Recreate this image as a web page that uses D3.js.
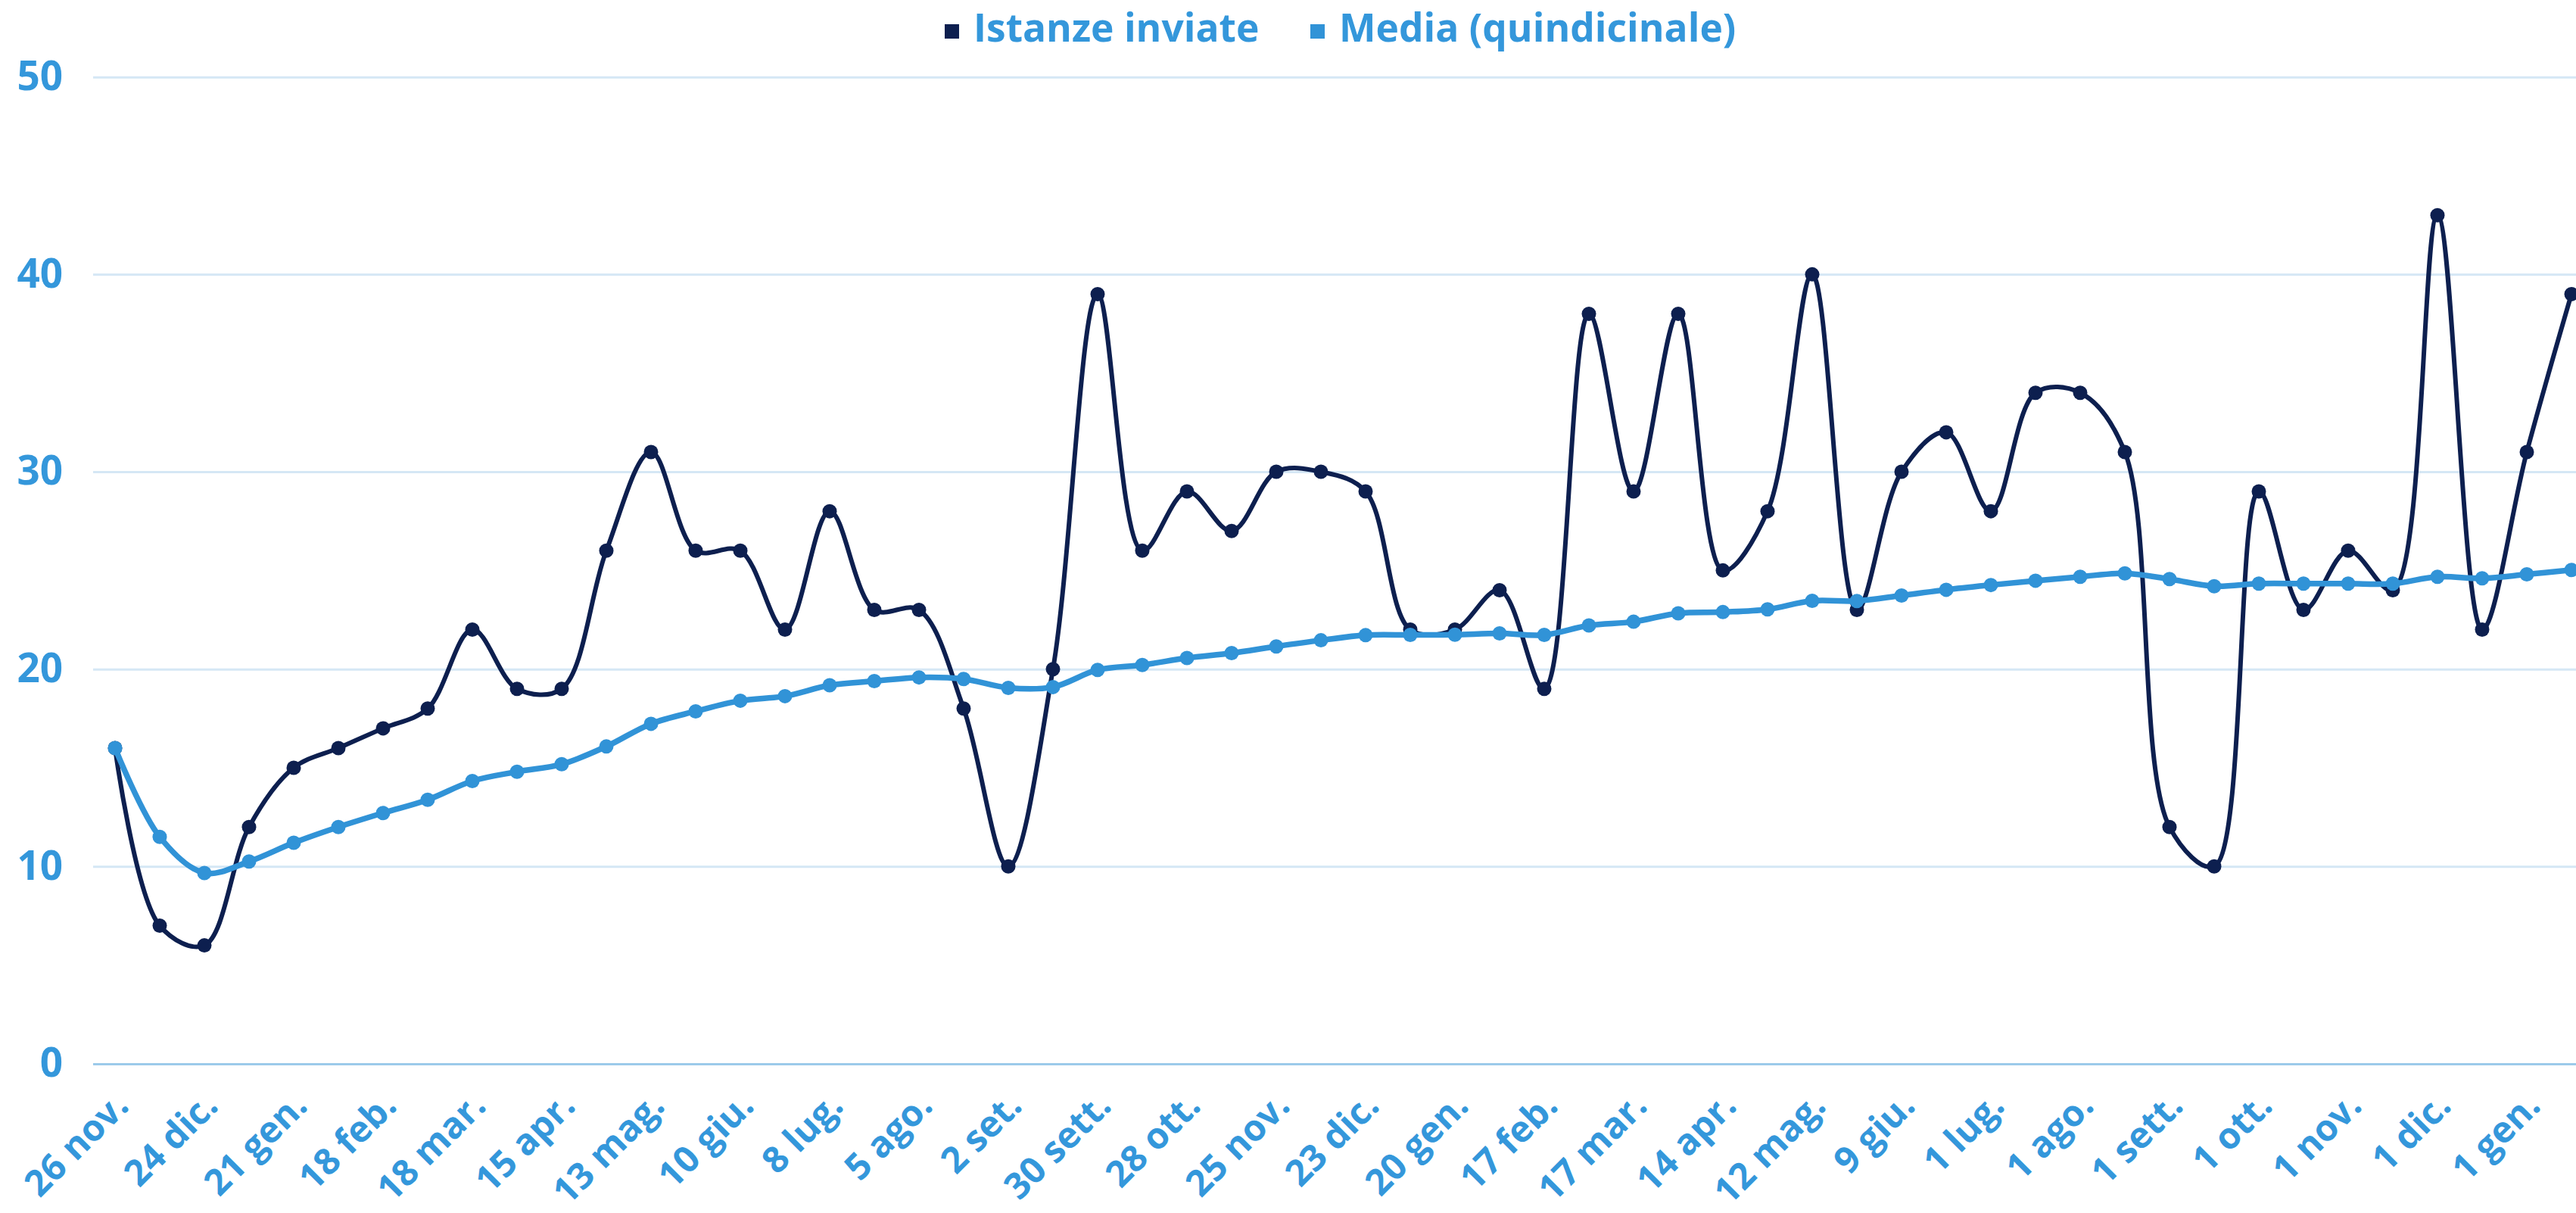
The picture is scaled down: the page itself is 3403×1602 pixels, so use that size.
<!DOCTYPE html>
<html><head><meta charset="utf-8">
<script src="https://cdn.jsdelivr.net/npm/d3@7"></script>
<style>body{margin:0;background:#fff;} svg{display:block;}</style>
</head><body><svg id="c" width="3403" height="1602"></svg>
<script>
const tickLabels = ["26 nov.","24 dic.","21 gen.","18 feb.","18 mar.","15 apr.","13 mag.","10 giu.","8 lug.","5 ago.","2 set.","30 sett.","28 ott.","25 nov.","23 dic.","20 gen.","17 feb.","17 mar.","14 apr.","12 mag.","9 giu.","1 lug.","1 ago.","1 sett.","1 ott.","1 nov.","1 dic.","1 gen."];
const istanze = [16,7,6,12,15,16,17,18,22,19,19,26,31,26,26,22,28,23,23,18,10,20,39,26,29,27,30,30,29,22,22,24,19,38,29,38,25,28,40,23,30,32,28,34,34,31,12,10,29,23,26,24,43,22,31,39];
const media = [16,11.5,9.67,10.25,11.2,12,12.71,13.38,14.33,14.8,15.18,16.08,17.23,17.86,18.4,18.63,19.18,19.39,19.58,19.5,19.05,19.09,19.96,20.21,20.56,20.81,21.15,21.46,21.72,21.73,21.74,21.81,21.73,22.21,22.4,22.83,22.89,23.03,23.46,23.45,23.73,24.02,24.26,24.48,24.68,24.85,24.56,24.2,24.33,24.33,24.33,24.33,24.68,24.6,24.8,25.02];
const seriesNames = ["Istanze inviate","Media (quindicinale)"];
const yTicks = [0,10,20,30,40,50];

const W = 3403, H = 1602;
const FONT = "'Open Sans', 'Noto Sans', sans-serif";
const textColor = "#3497db";
const colors = ["#0d1f4f", "#3193d7"];
const svg = d3.select("#c");

const x = d3.scaleLinear().domain([0, istanze.length - 1]).range([152, 3397]);
const y = d3.scaleLinear().domain([0, 50]).range([1405, 101.7]);

// Y axis + gridlines
const gy = svg.append("g").attr("transform", "translate(123,0)")
  .call(d3.axisLeft(y).tickValues(yTicks).tickSize(-(W - 123)).tickPadding(40));
gy.select(".domain").remove();
gy.attr("font-family", FONT).attr("font-size", 53).attr("font-weight", 700);
gy.selectAll(".tick line").attr("stroke", d => d === 0 ? "#9ccaea" : "#d5e7f5").attr("stroke-width", 3);
gy.selectAll(".tick text").attr("fill", textColor);

// X axis labels
const gx = svg.append("g").attr("transform", "translate(0,1405)")
  .call(d3.axisBottom(x).tickValues(d3.range(0, istanze.length, 2)).tickFormat(i => tickLabels[i / 2]).tickSize(0));
gx.select(".domain").remove();
gx.attr("font-family", FONT).attr("font-size", 48).attr("font-weight", 700);
gx.selectAll(".tick text").attr("fill", textColor).attr("text-anchor", "end")
  .attr("y", 0).attr("dy", 0).attr("transform", "translate(20,58) rotate(-45)");

// Lines
const line = d3.line().x((d, i) => x(i)).y(d => y(d)).curve(d3.curveCatmullRom.alpha(0.5));
const series = [istanze, media];
const widths = [6, 7.5];
series.forEach((s, k) => {
  svg.append("path").datum(s).attr("d", line).attr("fill", "none")
    .attr("stroke", colors[k]).attr("stroke-width", widths[k]).attr("stroke-linejoin", "round");
  svg.append("g").selectAll("circle").data(s).join("circle")
    .attr("cx", (d, i) => x(i)).attr("cy", d => y(d)).attr("r", 9.5).attr("fill", colors[k]);
});

// Legend
const legendX = [1248, 1731];
const lg = svg.append("g").attr("font-family", FONT).attr("font-size", 51.5).attr("font-weight", 700);
seriesNames.forEach((n, k) => {
  lg.append("rect").attr("x", legendX[k]).attr("y", 32).attr("width", 19).attr("height", 19).attr("fill", colors[k]);
  lg.append("text").attr("x", legendX[k] + 38).attr("y", 55).attr("fill", textColor).text(n);
});
</script></body></html>
